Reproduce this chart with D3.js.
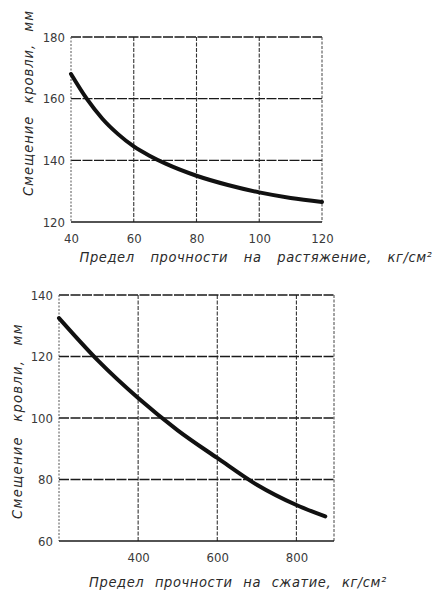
<!DOCTYPE html>
<html>
<head>
<meta charset="utf-8">
<script src="https://cdn.jsdelivr.net/npm/d3@7"></script>
<style>
  html, body { margin: 0; padding: 0; background: #fff; }
  svg { display: block; }
  text { font-family: "DejaVu Sans Condensed", "Liberation Sans", sans-serif; fill: #2a2a2a; }
</style>
</head>
<body>
<script>
// Upper chart: roof displacement vs. tensile strength
const tensileStrength = [40, 45, 50, 55, 60, 65, 70, 80, 90, 100, 110, 120];
const roofShiftTensile = [168, 160, 153.5, 148.5, 144.5, 141.5, 139, 135, 132, 129.6, 127.8, 126.5];
const tensileXTicks = [40, 60, 80, 100, 120];
const tensileYTicks = [120, 140, 160, 180];

// Lower chart: roof displacement vs. compressive strength
const compressiveStrength = [200, 300, 400, 500, 600, 700, 800, 873];
const roofShiftCompressive = [132.5, 118.5, 106.5, 96, 87, 78.3, 71.7, 68];
const compressiveXTicks = [400, 600, 800];
const compressiveYTicks = [60, 80, 100, 120, 140];

const yTitle = "Смещение кровли, мм";
const tensileTitle = "Предел прочности на растяжение, кг/см²";
const compressiveTitle = "Предел прочности на сжатие, кг/см²";

const svg = d3.select("body").append("svg")
  .attr("width", 443).attr("height", 604);

function panel(cfg) {
  const x = d3.scaleLinear().domain(cfg.xDomain).range([cfg.left, cfg.right]);
  const y = d3.scaleLinear().domain(cfg.yDomain).range([cfg.bottom, cfg.top]);
  const g = svg.append("g");

  // grid lines (dashed, as on printed graph paper)
  g.selectAll("line.vg").data(cfg.xTicks.filter(t => t > cfg.xDomain[0] && t < cfg.xDomain[1]))
    .join("line").attr("class", "vg")
    .attr("x1", d => x(d)).attr("x2", d => x(d))
    .attr("y1", cfg.top).attr("y2", cfg.bottom)
    .attr("stroke", "#333").attr("stroke-width", 1.1).attr("stroke-dasharray", "4,1.5");
  g.selectAll("line.hg").data(cfg.yTicks.filter(t => t > cfg.yDomain[0] && t < cfg.yDomain[1]))
    .join("line").attr("class", "hg")
    .attr("x1", cfg.left).attr("x2", cfg.right)
    .attr("y1", d => y(d)).attr("y2", d => y(d))
    .attr("stroke", "#1a1a1a").attr("stroke-width", 1.4).attr("stroke-dasharray", "10,1.5");

  // frame
  g.append("line").attr("x1", cfg.left).attr("x2", cfg.right).attr("y1", cfg.top).attr("y2", cfg.top)
    .attr("stroke", "#1a1a1a").attr("stroke-width", 1.4).attr("stroke-dasharray", "10,1.5");
  g.append("line").attr("x1", cfg.right).attr("x2", cfg.right).attr("y1", cfg.top).attr("y2", cfg.bottom)
    .attr("stroke", "#444").attr("stroke-width", 1).attr("stroke-dasharray", "3,1.5");
  g.append("line").attr("x1", cfg.left).attr("x2", cfg.left).attr("y1", cfg.top).attr("y2", cfg.bottom)
    .attr("stroke", "#555").attr("stroke-width", 1).attr("stroke-dasharray", "2,1.5");
  g.append("line").attr("x1", cfg.left).attr("x2", cfg.right).attr("y1", cfg.bottom).attr("y2", cfg.bottom)
    .attr("stroke", "#1a1a1a").attr("stroke-width", 1.7);

  // tick labels via d3 axes with hidden tick marks
  const xAxis = g.append("g").attr("transform", `translate(0,${cfg.bottom})`)
    .call(d3.axisBottom(x).tickValues(cfg.xTicks).tickSize(0).tickPadding(cfg.xPad).tickFormat(d3.format("d")));
  const yAxis = g.append("g").attr("transform", `translate(${cfg.left},0)`)
    .call(d3.axisLeft(y).tickValues(cfg.yTicks).tickSize(0).tickPadding(cfg.yPad).tickFormat(d3.format("d")));
  [xAxis, yAxis].forEach(a => {
    a.select(".domain").remove();
    a.selectAll("text").attr("font-size", 13).style("fill", "#3a3a3a")
      .attr("font-family", "\"DejaVu Sans Condensed\", sans-serif");
  });

  // the curve
  const line = d3.line().x(d => x(d[0])).y(d => y(d[1])).curve(d3.curveMonotoneX);
  g.append("path").datum(d3.zip(cfg.xs, cfg.ys))
    .attr("d", line).attr("fill", "none")
    .attr("stroke", "#111").attr("stroke-width", 4).attr("stroke-linecap", "round");

  // titles
  g.append("text").attr("x", cfg.xTitleX).attr("y", cfg.xTitleY)
    .attr("text-anchor", "middle").attr("font-size", 14.5).attr("font-style", "italic")
    .style("letter-spacing", cfg.xLs + "px").style("word-spacing", cfg.xWs + "px")
    .text(cfg.xTitle);
  g.append("text").attr("transform", `translate(${cfg.yTitleX},${cfg.yTitleY}) rotate(-90)`)
    .attr("text-anchor", "middle").attr("font-size", 14.5).attr("font-style", "italic")
    .style("letter-spacing", cfg.yLs + "px").style("word-spacing", cfg.yWs + "px")
    .text(yTitle);
}

panel({
  xDomain: [40, 120], yDomain: [120, 180],
  left: 71, right: 322, top: 37, bottom: 222,
  xTicks: tensileXTicks, yTicks: tensileYTicks,
  xs: tensileStrength, ys: roofShiftTensile,
  xPad: 12, yPad: 6,
  xTitle: tensileTitle, xTitleX: 256, xTitleY: 262, xLs: 0.6, xWs: 11,
  yTitleX: 33, yTitleY: 103, yLs: 1, yWs: 7
});

panel({
  xDomain: [200, 895], yDomain: [60, 140],
  left: 59, right: 334, top: 295, bottom: 541,
  xTicks: compressiveXTicks, yTicks: compressiveYTicks,
  xs: compressiveStrength, ys: roofShiftCompressive,
  xPad: 12, yPad: 6,
  xTitle: compressiveTitle, xTitleX: 238, xTitleY: 587, xLs: 0.6, xWs: 6,
  yTitleX: 22, yTitleY: 421, yLs: 1.3, yWs: 9
});
</script>
</body>
</html>
